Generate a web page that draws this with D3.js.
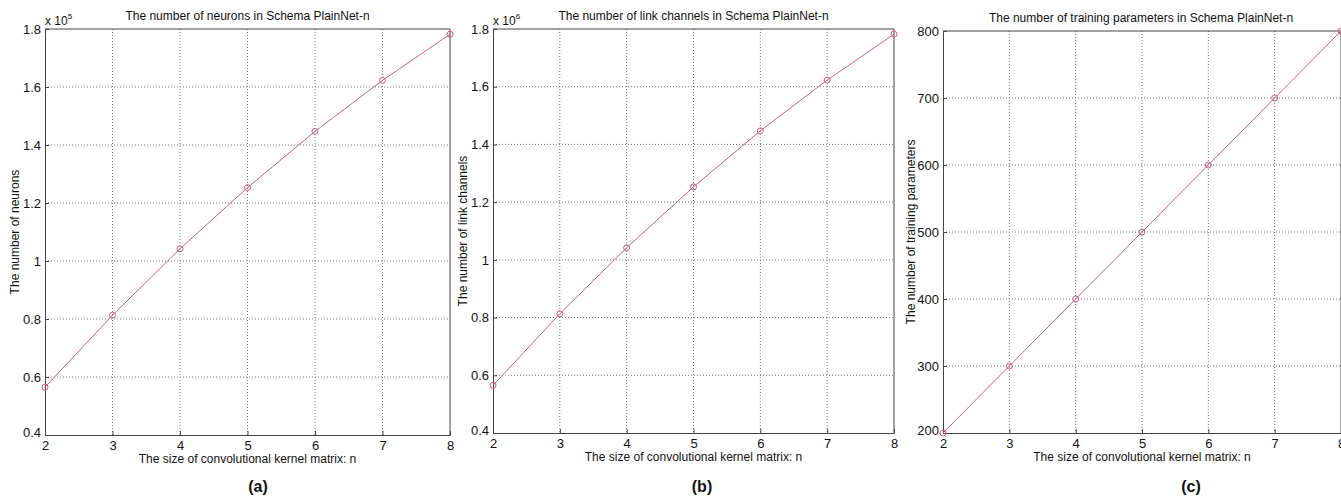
<!DOCTYPE html>
<html>
<head>
<style>
  body { margin: 0; background: #fff; }
  text { font-family: "Liberation Sans", Arial, sans-serif; fill: #111; }
</style>
</head>
<body>

<script src="https://d3js.org/d3.v7.min.js"></script>
<script>

const width = 1341;
const height = 502;

// kernel size n
const kernelSizes = [2, 3, 4, 5, 6, 7, 8];

// values
const neurons = [0.565, 0.813, 1.042, 1.253, 1.447, 1.623, 1.782];       // x 10^5
const linkChannels = [0.565, 0.813, 1.042, 1.253, 1.447, 1.623, 1.782];  // x 10^6
const trainingParams = [200, 300, 400, 500, 600, 700, 800];

const neuronTicks = [0.4, 0.6, 0.8, 1, 1.2, 1.4, 1.6, 1.8];
const linkTicks = [0.4, 0.6, 0.8, 1, 1.2, 1.4, 1.6, 1.8];
const paramTicks = [200, 300, 400, 500, 600, 700, 800];

const panels = [
  {left: 45, right: 450, top: 29, bottom: 435, values: neurons, ticks: neuronTicks,
   domain: [0.4, 1.8], exponent: '5', label: '(a)', labelX: 258,
   title: 'The number of neurons in Schema PlainNet-n', ylabel: 'The number of neurons'},
  {left: 493, right: 894, top: 29, bottom: 433, values: linkChannels, ticks: linkTicks,
   domain: [0.4, 1.8], exponent: '6', label: '(b)', labelX: 702,
   title: 'The number of link channels in Schema PlainNet-n', ylabel: 'The number of link channels'},
  {left: 943, right: 1341, top: 31, bottom: 433, values: trainingParams, ticks: paramTicks,
   domain: [200, 800], exponent: null, label: '(c)', labelX: 1191,
   title: 'The number of training parameters in Schema PlainNet-n', ylabel: 'The number of training parameters'}
];

const lineColor = '#c8607a';

const svg = d3.select('body')
  .append('svg')
  .attr('width', width)
  .attr('height', height);

panels.forEach(p => {
  const x = d3.scaleLinear().domain([2, 8]).range([p.left, p.right]);
  const y = d3.scaleLinear().domain(p.domain).range([p.bottom, p.top]);
  const g = svg.append('g');

  // grid
  g.selectAll('.vgrid')
    .data(kernelSizes.slice(1, -1))
    .enter().append('line')
    .attr('x1', d => x(d)).attr('x2', d => x(d))
    .attr('y1', p.top).attr('y2', p.bottom)
    .attr('stroke', '#777').attr('stroke-width', 1)
    .attr('stroke-dasharray', '1,2');

  g.selectAll('.hgrid')
    .data(p.ticks.slice(1, -1))
    .enter().append('line')
    .attr('x1', p.left).attr('x2', p.right)
    .attr('y1', d => y(d)).attr('y2', d => y(d))
    .attr('stroke', '#777').attr('stroke-width', 1)
    .attr('stroke-dasharray', '1,2');

  // axes
  const xAxis = g.append('g')
    .attr('transform', `translate(0,${p.bottom})`)
    .call(d3.axisBottom(x).tickValues(kernelSizes).tickSize(-4).tickPadding(6).tickFormat(d3.format('d')));
  const yAxis = g.append('g')
    .attr('transform', `translate(${p.left},0)`)
    .call(d3.axisLeft(y).tickValues(p.ticks).tickSize(-4).tickPadding(4).tickFormat(d => d3.format('')(d)));

  [xAxis, yAxis].forEach(a => {
    a.select('.domain').attr('stroke', '#444');
    a.selectAll('.tick line').attr('stroke', '#444');
    a.selectAll('text').attr('font-size', 13).attr('font-family', '"Liberation Sans", Arial, sans-serif').attr('fill', '#111');
  });

  // MATLAB-style: bottom-left labels nudged
  yAxis.selectAll('.tick').filter(d => d === p.ticks[0]).select('text').attr('dy', '0.1em');

  // box top / right
  g.append('line')
    .attr('x1', p.left).attr('x2', p.right).attr('y1', p.top).attr('y2', p.top)
    .attr('stroke', '#444');
  g.append('line')
    .attr('x1', p.right).attr('x2', p.right).attr('y1', p.top).attr('y2', p.bottom)
    .attr('stroke', '#444');

  // series
  const line = d3.line()
    .x((d, i) => x(kernelSizes[i]))
    .y(d => y(d));

  g.append('path')
    .datum(p.values)
    .attr('d', line)
    .attr('fill', 'none')
    .attr('stroke', lineColor)
    .attr('stroke-width', 1);

  g.selectAll('.pt')
    .data(p.values)
    .enter().append('circle')
    .attr('cx', (d, i) => x(kernelSizes[i]))
    .attr('cy', d => y(d))
    .attr('r', 3)
    .attr('fill', 'none')
    .attr('stroke', lineColor)
    .attr('stroke-width', 1);

  // texts
  g.append('text')
    .attr('x', (p.left + p.right) / 2 + (p.exponent ? 0 : -1))
    .attr('y', p.top - 9)
    .attr('text-anchor', 'middle')
    .attr('font-size', 12)
    .text(p.title);

  g.append('text')
    .attr('x', (p.left + p.right) / 2)
    .attr('y', p.bottom + 28)
    .attr('text-anchor', 'middle')
    .attr('font-size', 12)
    .text('The size of convolutional kernel matrix: n');

  g.append('text')
    .attr('transform', `translate(${p.left - (p.exponent ? 26 : 28)},${(p.top + p.bottom) / 2}) rotate(-90)`)
    .attr('text-anchor', 'middle')
    .attr('font-size', 12)
    .text(p.ylabel);

  if (p.exponent) {
    const m = g.append('text')
      .attr('x', p.left)
      .attr('y', p.top - 4)
      .attr('font-size', 12);
    m.append('tspan').text('x 10');
    m.append('tspan').attr('font-size', 8).attr('dy', -6).text(p.exponent);
  }

  svg.append('text')
    .attr('x', p.labelX)
    .attr('y', 492)
    .attr('text-anchor', 'middle')
    .attr('font-size', 16)
    .attr('font-weight', 'bold')
    .text(p.label);
});

</script>
</body>
</html>
